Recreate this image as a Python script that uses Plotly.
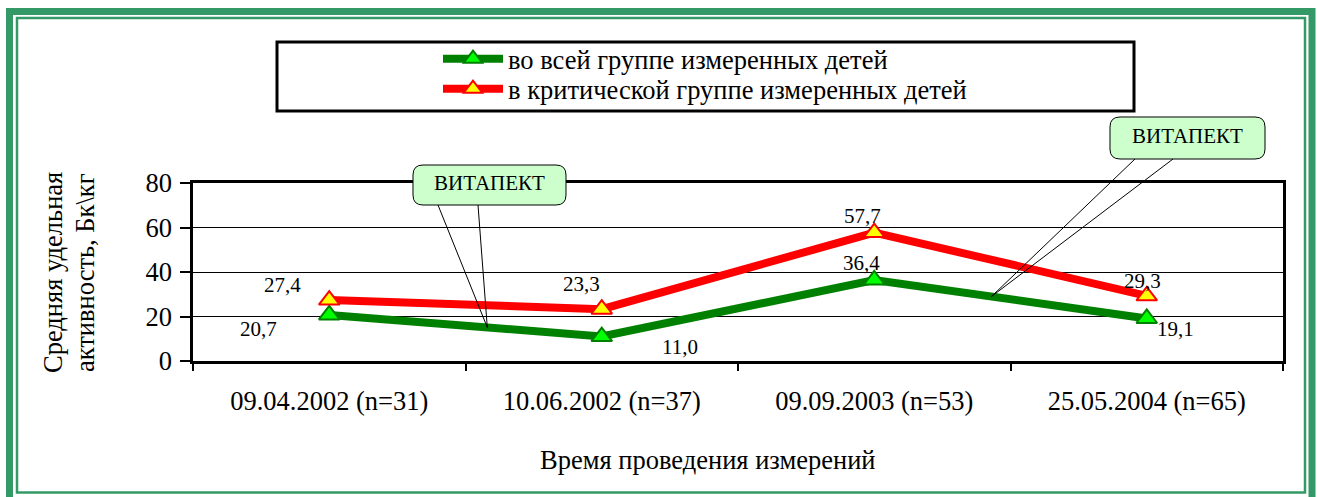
import numpy as np
import plotly.graph_objects as go

# ---- data -------------------------------------------------------------
categories = ["09.04.2002 (n=31)", "10.06.2002 (n=37)", "09.09.2003 (n=53)", "25.05.2004 (n=65)"]
all_children = [20.7, 11.0, 36.4, 19.1]
critical_group = [27.4, 23.3, 57.7, 29.3]
series_names = ["во всей группе измеренных детей", "в критической группе измеренных детей"]
y_ticks = [0, 20, 40, 60, 80]
x_title = "Время проведения измерений"
y_title_lines = ["Средняя удельная", "активность, Бк\\кг"]
callout_text = "ВИТАПЕКТ"
callout_at = [0.58, 2.43]  # fractional category positions on the all-children line

# ---- geometry ---------------------------------------------------------
W, H = 1318, 497
ML, MR, MT, MB = 193, 35, 183, 136
PW, PH = W - ML - MR, H - MT - MB
YMAX = 80
FONT = "Liberation Serif"
FRAME_GREEN = "#339966"
BIG = 26.5


def data_px(i, v):
    """Category index (may be fractional) and value -> pixel position."""
    return ML + (i + 0.5) / len(categories) * PW, MT + (1 - v / YMAX) * PH


def paper(x, y):
    return (x - ML) / PW, (H - MB - y) / PH


def rect_shape(x0, y0, x1, y1, color, width, fill="rgba(0,0,0,0)"):
    a = paper(x0, y0)
    b = paper(x1, y1)
    return dict(type="rect", xref="paper", yref="paper", x0=a[0], y0=a[1], x1=b[0], y1=b[1],
                line=dict(color=color, width=width), fillcolor=fill, layer="above")


def path_str(points, cmds, close=False):
    parts = []
    for c, pts in zip(cmds, points):
        coords = " ".join("%.5f,%.5f" % paper(*p) for p in pts)
        parts.append(c + coords)
    return " ".join(parts) + (" Z" if close else "")


def rounded_box(x0, y0, x1, y1, r):
    cmds = ["M", "L", "Q", "L", "Q", "L", "Q", "L", "Q"]
    pts = [
        [(x0 + r, y0)],
        [(x1 - r, y0)],
        [(x1, y0), (x1, y0 + r)],
        [(x1, y1 - r)],
        [(x1, y1), (x1 - r, y1)],
        [(x0 + r, y1)],
        [(x0, y1), (x0, y1 - r)],
        [(x0, y0 + r)],
        [(x0, y0), (x0 + r, y0)],
    ]
    return path_str(pts, cmds, close=True)


def text_at(px, py, text, size, angle=0):
    x, y = paper(px, py)
    return dict(x=x, y=y, xref="paper", yref="paper", text=text, showarrow=False,
                xanchor="center", yanchor="middle", textangle=angle,
                font=dict(family=FONT, size=size, color="black"))


fig = go.Figure()

# ---- series -----------------------------------------------------------
fig.add_trace(go.Scatter(
    x=categories, y=all_children, name=series_names[0], mode="lines+markers",
    line=dict(color="#008000", width=8),
    marker=dict(symbol="triangle-up", size=18, color="#00ff00", line=dict(color="#008000", width=2)),
    cliponaxis=False, legend="legend",
))
fig.add_trace(go.Scatter(
    x=categories, y=critical_group, name=series_names[1], mode="lines+markers",
    line=dict(color="#ff0000", width=8),
    marker=dict(symbol="triangle-up", size=18, color="#ffff00", line=dict(color="#ff0000", width=2)),
    cliponaxis=False, legend="legend2",
))

# ---- value labels -----------------------------------------------------
green_offsets = [(-71, 14), (78, 10), (-13, -17), (29, 10)]
red_offsets = [(-47, -15), (-20, -25), (-12, -17), (-4, -15)]
annotations = []
for vals, offs in ((all_children, green_offsets), (critical_group, red_offsets)):
    for cat, v, (dx, dy) in zip(categories, vals, offs):
        annotations.append(dict(
            x=cat, y=v, xref="x", yref="y", text=f"{v:.1f}".replace(".", ","),
            showarrow=False, xshift=dx, yshift=-dy, xanchor="center", yanchor="middle",
            font=dict(family=FONT, size=21, color="black"),
        ))

# ---- axis titles ------------------------------------------------------
annotations.append(text_at(708, 460, x_title, BIG))
for xc, line in zip((53, 85), y_title_lines):
    annotations.append(text_at(xc, 273, line, BIG, angle=-90))

shapes = []
# ---- page frame -------------------------------------------------------
shapes.append(rect_shape(9.5, 11.5, 1312, 508, FRAME_GREEN, 7))
shapes.append(rect_shape(17, 18, 1305, 492.5, FRAME_GREEN, 2.5))
# ---- legend frame -----------------------------------------------------
shapes.append(rect_shape(277, 42, 1134, 111, "black", 3))

# ---- callouts ---------------------------------------------------------
callout_boxes = [((413, 165, 566, 205), (438, 478)), ((1110, 117, 1265, 159), (1135, 1173))]
for pos, ((bx0, by0, bx1, by1), (bl, br)) in zip(callout_at, callout_boxes):
    tip_val = float(np.interp(pos, np.arange(len(categories)), all_children))
    tip = data_px(pos, tip_val)
    shapes.append(dict(type="path", xref="paper", yref="paper",
                       path=rounded_box(bx0, by0, bx1, by1, 10),
                       fillcolor="#ccffcc", line=dict(color="black", width=1), layer="above"))
    shapes.append(dict(type="path", xref="paper", yref="paper",
                       path=path_str([[(bl, by1)], [tip], [(br, by1)]], ["M", "L", "L"]),
                       line=dict(color="black", width=1), layer="above"))
    annotations.append(text_at((bx0 + bx1) / 2, (by0 + by1) / 2 - 2, callout_text, 21))

lx = (438 - ML) / PW
legend_style = dict(x=lx, xanchor="left", yanchor="middle", itemwidth=60,
                    bgcolor="rgba(0,0,0,0)", borderwidth=0,
                    font=dict(family=FONT, size=BIG, color="black"))
fig.update_layout(
    width=W, height=H,
    margin=dict(l=ML, r=MR, t=MT, b=MB, pad=0),
    paper_bgcolor="white", plot_bgcolor="white",
    font=dict(family=FONT, size=BIG, color="black"),
    showlegend=True,
    legend=dict(y=paper(0, 59)[1], **legend_style),
    legend2=dict(y=paper(0, 89)[1], **legend_style),
    xaxis=dict(type="category", range=[-0.5, len(categories) - 0.5], tickson="boundaries",
               ticks="outside", ticklen=7, tickwidth=2, tickcolor="black",
               showline=True, mirror=True, linewidth=2.5, linecolor="black", showgrid=False,
               tickfont=dict(family=FONT, size=BIG, color="black"), ticklabelstandoff=14),
    yaxis=dict(range=[0, YMAX], tickvals=y_ticks, ticks="outside", ticklen=10, tickwidth=1.5,
               tickcolor="black", showgrid=True, gridcolor="black", gridwidth=1, zeroline=False,
               showline=True, mirror=True, linewidth=2.5, linecolor="black",
               tickfont=dict(family=FONT, size=BIG, color="black"), ticklabelstandoff=3),
    annotations=annotations,
    shapes=shapes,
)

fig.write_html("out.html")
